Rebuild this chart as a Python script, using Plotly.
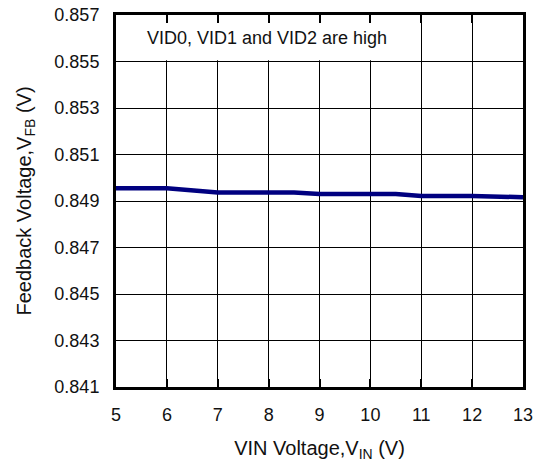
import plotly.graph_objects as go

vin = [5, 6, 7, 8, 8.5, 9, 10, 10.5, 11, 12, 13]
vfb = [0.84955, 0.84955, 0.84937, 0.84937, 0.84937, 0.8493, 0.8493, 0.8493, 0.84922, 0.84922, 0.84916]

x_ticks = [5, 6, 7, 8, 9, 10, 11, 12, 13]
y_ticks = [0.841, 0.843, 0.845, 0.847, 0.849, 0.851, 0.853, 0.855, 0.857]
y_tick_text = ["0.841", "0.843", "0.845", "0.847", "0.849", "0.851", "0.853", "0.855", "0.857"]
note = "VID0, VID1 and VID2 are high"

FONT = "Liberation Sans, Arial, sans-serif"

fig = go.Figure()
fig.add_trace(go.Scatter(x=vin, y=vfb, mode="lines",
                         line=dict(color="#000080", width=4.5),
                         showlegend=False, hoverinfo="skip"))

fig.add_shape(type="rect", xref="x", yref="y", x0=5, x1=10.985, y0=0.85505, y1=0.857,
              fillcolor="white", line=dict(width=0), layer="between")

fig.add_annotation(x=(5 + 10.985) / 2 - 0.03, y=0.856, xref="x", yref="y", text=note,
                   showarrow=False, font=dict(family=FONT, size=18, color="#111111"))

fig.update_layout(
    width=544, height=463,
    margin=dict(l=116, r=21, t=15, b=76, autoexpand=False),
    paper_bgcolor="white", plot_bgcolor="white",
    font=dict(family=FONT, size=18, color="#111111"),
)
fig.update_xaxes(range=[5, 13], tickvals=x_ticks, showgrid=True, gridcolor="black", gridwidth=1.4,
                 showline=True, linecolor="black", linewidth=3, mirror="ticks",
                 ticks="inside", ticklen=8, tickwidth=1.5, tickcolor="black",
                 tickfont=dict(size=18), zeroline=False, ticklabelstandoff=9, automargin=False,
                 title=dict(text="VIN Voltage,V<sub>IN</sub> (V)", font=dict(size=20), standoff=18))
fig.update_yaxes(range=[0.841, 0.857], tickvals=y_ticks, ticktext=y_tick_text, showgrid=True,
                 gridcolor="black", gridwidth=1.4,
                 showline=True, linecolor="black", linewidth=3, mirror=True, automargin=False,
                 ticks="", tickfont=dict(size=18), zeroline=False, ticklabelstandoff=10,
                 title=dict(text="Feedback Voltage,V<sub>FB</sub> (V)", font=dict(size=20), standoff=18))

fig.write_html("out.html", config={"displayModeBar": False},
               post_script="document.body.style.margin='0';document.body.style.overflow='hidden';")
